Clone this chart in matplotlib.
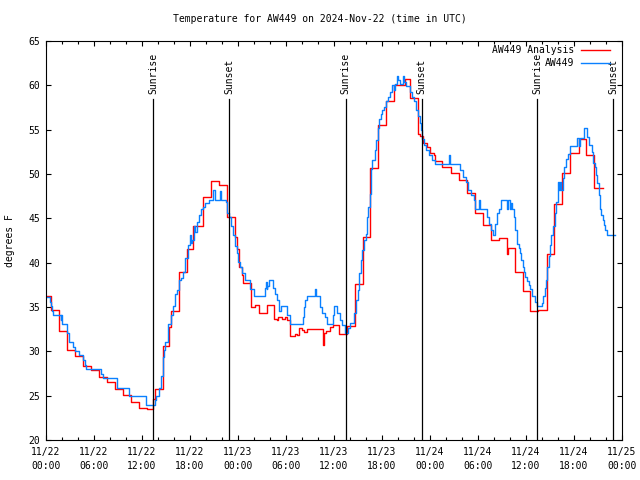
import matplotlib
matplotlib.use('Agg')
import matplotlib.pyplot as plt
from matplotlib.lines import Line2D
import matplotlib.transforms as mtransforms

# hours since 2024-11-22 00:00 UTC
analysis_hours = [0, 0.67, 1.67, 2.67, 3.67, 4.67, 5.67, 6.67, 7.67, 8.67, 9.67, 10.67,
                  11.67, 12.67, 13.42, 13.67, 14.58, 15.42, 15.67, 16.58, 17.58, 18.42,
                  19.58, 20.67, 21.58, 22.58, 23.58, 23.83, 24.08, 24.46, 24.67, 25.58,
                  26.12, 26.58, 27.58, 28.5, 28.92, 29.0, 29.5, 29.83, 30.08, 30.5, 31.17,
                  31.42, 31.58, 32.0, 32.25, 32.58, 34.58, 34.67, 34.75, 35.0, 35.5, 35.92,
                  36.58, 37.62, 38.58, 39.62, 40.54, 41.54, 42.54, 43.54, 44.88, 45.54,
                  46.54, 46.79, 47.12, 47.62, 47.96, 48.46, 48.62, 49.54, 50.62, 51.62,
                  52.62, 53.62, 54.58, 55.67, 56.58, 57.67, 57.75, 58.58, 59.58, 60.5,
                  61.5, 62.58, 63.5, 64.5, 65.5, 66.58, 67.5, 68.5, 69.58]
analysis_temp = [36.2, 34.7, 32.3, 30.1, 29.5, 28.4, 27.9, 27.1, 26.5, 25.8, 25.1, 24.3,
                 23.6, 23.5, 24.6, 25.8, 30.6, 32.7, 34.6, 38.9, 41.5, 44.1,
                 47.4, 49.2, 48.8, 45.2, 42.9, 41.5, 39.5, 38.6, 37.7, 35.0,
                 35.2, 34.3, 35.2, 33.7, 33.5, 33.9, 33.6, 33.9, 33.5, 31.7, 32.0,
                 31.85, 32.6, 32.4, 32.2, 32.5, 32.1, 30.7, 32.1, 32.3, 32.7, 33.0,
                 31.9, 32.9, 37.6, 42.9, 50.7, 55.5, 58.2, 60.0, 60.7, 58.6,
                 54.5, 54.3, 53.5, 53.0, 52.4, 52.1, 51.5, 50.75, 50.1, 49.3,
                 47.9, 45.6, 44.3, 42.6, 42.8, 41.0, 41.7, 39.0, 36.8, 34.5,
                 34.7, 41.0, 46.6, 50.1, 52.4, 54.0, 52.1, 48.4, 48.4]

obs_hours = [0, 0.5, 0.67, 0.75, 0.92, 1.83, 1.92, 2.0, 2.67, 2.92, 3.42, 3.67, 4.08,
             4.67, 4.83, 5.0, 6.92, 7.08, 8.92, 10.42, 12.5, 13.58, 13.75, 14.08, 14.42,
             14.58, 14.75, 14.92, 15.25, 15.58, 15.83, 16.17, 16.33, 16.58, 16.83, 17.17,
             17.42, 17.75, 18.0, 18.08, 18.25, 18.5, 18.67, 18.92, 19.17, 19.42, 19.58,
             19.83, 20.33, 20.83, 21.08, 21.75, 21.83, 22.5, 22.67, 22.92, 23.17, 23.33,
             23.58, 23.83, 24.0, 24.25, 24.5, 24.92, 25.5, 26.0, 27.33, 27.5, 27.58,
             27.67, 27.83, 28.42, 28.67, 28.83, 29.08, 29.17, 29.33, 30.08, 30.5, 32.08,
             32.25, 32.42, 32.58, 33.67, 33.75, 34.25, 34.5, 34.83, 35.17, 35.83, 36.0,
             36.42, 36.71, 37.04, 37.38, 37.71, 37.96, 38.54, 38.71, 38.96, 39.12, 39.38,
             39.54, 39.71, 39.96, 40.12, 40.29, 40.46, 40.62, 40.79, 41.12, 41.29, 41.46,
             41.62, 41.88, 42.04, 42.21, 42.46, 42.71, 42.96, 43.29, 43.46, 43.62, 43.88,
             44.04, 44.29, 44.62, 44.79, 45.04, 45.46, 45.71, 45.96, 46.21, 46.46, 46.71,
             46.88, 47.04, 47.29, 47.54, 47.88, 48.21, 48.62, 50.38, 50.46, 51.79, 52.12,
             52.54, 52.79, 53.12, 53.46, 53.62, 54.12, 54.21, 55.17, 55.42, 55.67, 55.83,
             56.17, 56.33, 56.58, 56.92, 57.58, 57.75, 58.0, 58.08, 58.25, 58.5, 58.67,
             58.92, 59.08, 59.25, 59.42, 59.58, 59.75, 59.92, 60.08, 60.33, 60.5, 60.75,
             61.17, 61.33, 62.0, 62.17, 62.33, 62.5, 62.67, 62.83, 63.0, 63.17, 63.33,
             63.58, 63.75, 64.0, 64.08, 64.25, 64.42, 64.58, 64.75, 65.0, 65.25, 65.5,
             66.33, 66.42, 66.58, 66.75, 67.25, 67.58, 67.92, 68.25, 68.42, 68.58, 68.75,
             68.92, 69.08, 69.25, 69.42, 69.58, 69.75, 69.92, 70.08, 71.17]
obs_temp = [36.1, 35.6, 35.1, 34.6, 34.1, 33.5, 34.1, 33.1, 32.1, 31.05, 30.45, 30.0, 29.55,
            29.0, 28.5, 28.0, 27.5, 27.0, 25.9, 25.0, 24.0, 24.5, 25.0, 25.9, 27.2,
            29.4, 30.2, 31.0, 33.1, 34.1, 35.1, 36.5, 36.9, 38.0, 38.3, 39.0,
            40.5, 42.0, 43.1, 42.2, 42.6, 44.1, 43.5, 44.6, 45.4, 46.0, 46.3,
            46.7, 47.1, 48.2, 47.1, 48.1, 47.1, 46.8, 45.6, 45.1, 44.1, 43.1,
            41.9, 41.05, 40.1, 39.5, 38.8, 38.05, 37.0, 36.2, 37.1, 37.8, 37.0,
            37.4, 38.05, 37.1, 36.5, 35.8, 35.0, 34.5, 35.1, 34.1, 33.1, 33.9,
            35.0, 35.8, 36.2, 37.0, 36.2, 35.0, 34.3, 33.9, 33.1, 34.1, 35.1,
            34.3, 33.5, 33.0, 32.1, 32.6, 33.2, 34.3, 35.8, 36.9, 38.8, 40.3,
            41.4, 42.6, 43.2, 45.2, 46.3, 47.8, 50.6, 51.6, 52.7, 53.8, 55.2,
            56.2, 56.8, 57.2, 57.6, 58.2, 58.7, 59.3, 60.0, 59.5, 60.2, 61.0,
            60.6, 60.2, 61.0, 60.4, 59.9, 59.3, 58.7, 58.2, 57.2, 56.5, 55.7,
            55.0, 54.0, 53.3, 52.7, 52.1, 51.6, 51.1, 52.1, 51.1, 50.5, 49.7,
            49.1, 48.2, 47.6, 47.1, 46.1, 47.1, 46.1, 45.1, 44.4, 43.7, 43.1,
            44.4, 45.6, 46.1, 47.1, 46.1, 47.1, 46.1, 46.7, 46.1, 45.2, 43.7,
            42.1, 41.6, 41.05, 40.3, 39.55, 38.9, 38.4, 37.9, 37.5, 37.0, 36.2,
            35.6, 35.1, 35.5, 36.2, 37.1, 38.05, 39.55, 40.7, 42.0, 43.1, 44.1,
            45.6, 46.8, 49.1, 48.2, 49.1, 48.2, 49.5, 50.8, 51.65, 52.3, 53.2,
            53.7, 54.1, 53.2, 54.1, 55.15, 54.2, 53.3, 52.5, 51.2, 50.8, 49.9,
            48.95, 47.6, 46.1, 45.4, 44.8, 44.25, 43.7, 43.1, 43.1]

sunrise_hours = [13.42, 37.44, 61.42]
sunset_hours = [22.92, 46.94, 70.92]

tick_hours = list(range(0, 73, 6))
tick_labels = ['11/22\n00:00', '11/22\n06:00', '11/22\n12:00', '11/22\n18:00',
               '11/23\n00:00', '11/23\n06:00', '11/23\n12:00', '11/23\n18:00',
               '11/24\n00:00', '11/24\n06:00', '11/24\n12:00', '11/24\n18:00',
               '11/25\n00:00']
y_ticks = list(range(20, 66, 5))

plt.rcParams['font.family'] = 'DejaVu Sans Mono'
plt.rcParams['font.size'] = 7

red = '#ff0000'
blue = '#0a80ff'

fig = plt.figure(figsize=(6.4, 4.8), dpi=100)
ax = fig.add_axes([46/640, 40/480, 576/640, 399/480])

ax.plot(analysis_hours, analysis_temp, drawstyle='steps-post', color=red, lw=1.0)
ax.plot(obs_hours, obs_temp, drawstyle='steps-post', color=blue, lw=1.0)

ax.set_xlim(0, 72)
ax.set_ylim(20, 65)

# sunrise / sunset markers
trans = mtransforms.blended_transform_factory(ax.transData, ax.transAxes)
for hours, name in [(sunrise_hours, 'Sunrise'), (sunset_hours, 'Sunset')]:
    for h in hours:
        ax.axvline(h, ymin=0, ymax=0.855, color='black', lw=0.9)
        ax.text(h, 0.868, name, transform=trans, rotation=90,
                ha='center', va='bottom')

ax.set_xticks(tick_hours)
ax.set_xticklabels(tick_labels, linespacing=1.45)
ax.set_xticks(range(0, 73, 2), minor=True)
ax.set_yticks(y_ticks)
ax.tick_params(which='both', direction='in', top=True, right=True, width=0.8, color='black')
ax.tick_params(which='major', length=3.5)
ax.tick_params(which='minor', length=2.5)
ax.tick_params(axis='x', pad=5)
ax.tick_params(axis='y', pad=4)
for s in ax.spines.values():
    s.set_linewidth(0.8)

fig.text(0.5, 1 - 19/480, 'Temperature for AW449 on 2024-Nov-22 (time in UTC)',
         ha='center', va='center')
fig.text(10/640, 0.499, 'degrees F', rotation=90, ha='center', va='center')

# key
for label, color, ypx in [('AW449 Analysis', red, 50), ('AW449', blue, 62.5)]:
    fig.text(574/640, 1 - ypx/480, label, ha='right', va='center')
    fig.add_artist(Line2D([581/640, 610/640], [1 - ypx/480] * 2, color=color, lw=1.0))

fig.savefig('out.png', dpi=100)
